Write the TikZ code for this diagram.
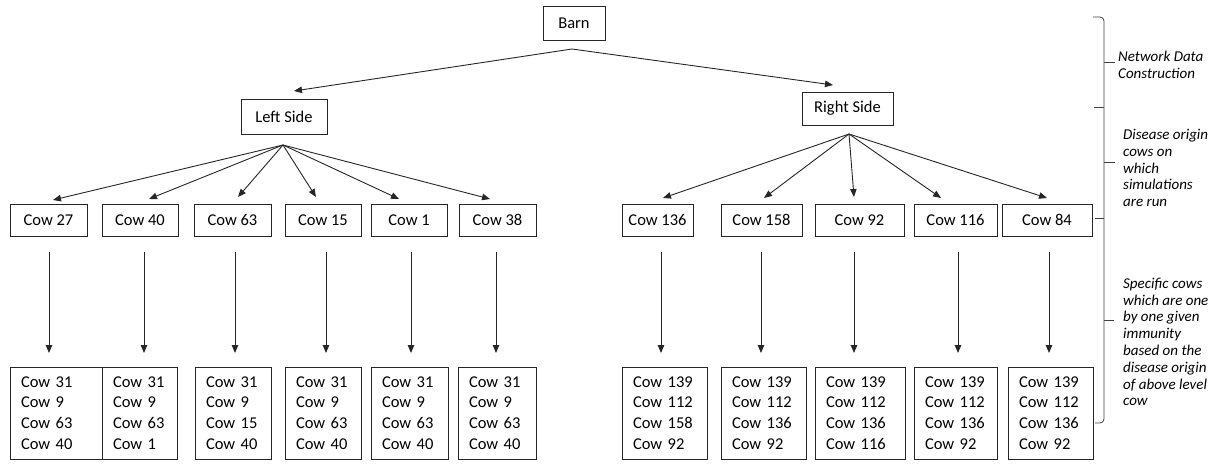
\documentclass[tikz,border=0pt]{standalone}
\usepackage{fontspec}
\setmainfont{Carlito}
\usetikzlibrary{arrows.meta}
\newfontfamily\cwfont{Carlito}
\tikzset{
  x=1pt, y=-1pt,
  lc/.style={draw=black!85, line width=0.9pt},
  box/.style={lc, rectangle, inner sep=0pt, font=\cwfont\fontsize{16.5}{20}\selectfont},
  listbox/.style={lc, rectangle, inner ysep=0pt, inner xsep=11pt, align=left,
     font=\cwfont\fontsize{16.5}{20.8}\selectfont, minimum height=92pt},
  arr/.style={black!85, line width=0.9pt, -{Triangle[length=8pt,width=6.5pt]}},
  note/.style={anchor=west, align=left, inner sep=0pt,
     font=\cwfont\itshape\fontsize{15}{16.8}\selectfont},
  bracel/.style={black!75, line width=0.8pt},
}
\begin{document}
\begin{tikzpicture}
\useasboundingbox (0,0) rectangle (1220,463);
% top level
\node[box, minimum width=62pt, minimum height=34pt] (barn) at (574,23) {Barn};
\node[box, minimum width=86pt, minimum height=35pt] (left) at (284,116.5) {Left Side};
\node[box, minimum width=91pt, minimum height=33pt] (right) at (847.5,108.5) {Right Side};
% row 1
\node[box, minimum width=77pt, minimum height=32pt] (c27) at (48.5,220) {Cow 27};
\node[box, minimum width=76pt, minimum height=32pt] (c40) at (140,220) {Cow 40};
\node[box, minimum width=77pt, minimum height=32pt] (c63) at (232.5,220) {Cow 63};
\node[box, minimum width=76pt, minimum height=32pt] (c15) at (323,220) {Cow 15};
\node[box, minimum width=76pt, minimum height=32pt] (c1) at (409,220) {Cow 1};
\node[box, minimum width=77pt, minimum height=32pt] (c38) at (497.5,220) {Cow 38};
\node[box, minimum width=71pt, minimum height=32pt] (c136) at (657.5,220) {Cow 136};
\node[box, minimum width=81pt, minimum height=32pt] (c158) at (761.5,220) {Cow 158};
\node[box, minimum width=89pt, minimum height=32pt] (c92) at (859.5,220) {Cow 92};
\node[box, minimum width=83pt, minimum height=32pt] (c116) at (955.5,220) {Cow 116};
\node[box, minimum width=90pt, minimum height=32pt] (c84) at (1047,220) {Cow 84};
% bottom lists
\node[listbox, text width=70pt] (l1) at (56,413) {Cow 31\\Cow 9\\Cow 63\\Cow 40};
\node[listbox, text width=53pt] (l2) at (139.5,413) {Cow 31\\Cow 9\\Cow 63\\Cow 1};
\node[listbox, text width=54pt] (l3) at (233,413) {Cow 31\\Cow 9\\Cow 15\\Cow 40};
\node[listbox, text width=54pt] (l4) at (323,413) {Cow 31\\Cow 9\\Cow 63\\Cow 40};
\node[listbox, text width=55pt] (l5) at (409.5,413) {Cow 31\\Cow 9\\Cow 63\\Cow 40};
\node[listbox, text width=56pt] (l6) at (497,413) {Cow 31\\Cow 9\\Cow 63\\Cow 40};
\node[listbox, text width=63pt] (r1) at (664.5,413) {Cow 139\\Cow 112\\Cow 158\\Cow 92};
\node[listbox, text width=63pt] (r2) at (763.5,413) {Cow 139\\Cow 112\\Cow 136\\Cow 92};
\node[listbox, text width=68pt] (r3) at (860,413) {Cow 139\\Cow 112\\Cow 136\\Cow 116};
\node[listbox, text width=61pt] (r4) at (955.5,413) {Cow 139\\Cow 112\\Cow 136\\Cow 92};
\node[listbox, text width=63pt] (r5) at (1050.5,413) {Cow 139\\Cow 112\\Cow 136\\Cow 92};
% connector coordinates
\coordinate (bapex) at (572,49);
\coordinate (leftin) at (294,91);
\coordinate (rightin) at (833,85);
\coordinate (lfan) at (283,145);
\coordinate (rfan) at (849,134);
\foreach \n/\x/\y in {c27/53/200, c40/149/199, c63/238/197, c15/316/197, c1/399/199, c38/490/199,
                      c136/663/198, c158/764/198, c92/854/197, c116/941/198, c84/1047/198}
  \coordinate (\n in) at (\x,\y);
\draw[arr] (bapex) -- (leftin);
\draw[arr] (bapex) -- (rightin);
\foreach \n in {c27,c40,c63,c15,c1,c38}
  \draw[arr] (lfan) -- (\n in);
\foreach \n in {c136,c158,c92,c116,c84}
  \draw[arr] (rfan) -- (\n in);
% vertical arrows
\foreach \n/\x in {l1/49, l2/144, l3/235, l4/326, l5/411, l6/496, r1/661, r2/761, r3/854, r4/958, r5/1049} {
  \coordinate (\n top) at (\x,252);
  \coordinate (\n tip) at (\x,353);
  \draw[arr] (\n top) -- (\n tip);
}
% brace
\draw[bracel] (1093,17) -- (1100,17) to[out=0,in=90] (1104,21) -- (1104,419) to[out=-90,in=0] (1100,423) -- (1095,423);
\draw[bracel] (1104,62) -- (1115,62);
\draw[bracel] (1104,107) -- (1094,107);
\draw[bracel] (1104,162) -- (1115,162);
\draw[bracel] (1104,218) -- (1095,218);
\draw[bracel] (1104,320) -- (1114,320);
% notes
\node[note] (n1) at (1118,65) {Network Data\\Construction};
\node[note] (n2) at (1123,168) {Disease origin\\cows on\\which\\simulations\\are run};
\node[note] (n3) at (1123,342) {Specific cows\\which are one\\by one given\\immunity\\based on the\\disease origin\\of above level\\cow};
\end{tikzpicture}
\end{document}
